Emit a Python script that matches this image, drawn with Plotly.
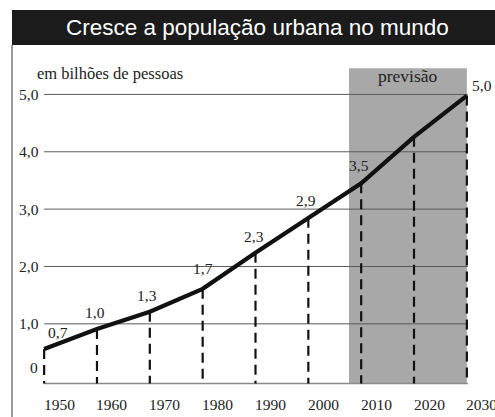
import plotly.graph_objects as go

# ---- data ----
years = [1950, 1960, 1970, 1980, 1990, 2000, 2010, 2020, 2030]
pop_line = [0.56, 0.91, 1.21, 1.61, 2.24, 2.85, 3.45, 4.26, 4.98]   # drawn curve (bilhões)
label_years = [1950, 1960, 1970, 1980, 1990, 2000, 2010, 2030]
label_texts = ["0,7", "1,0", "1,3", "1,7", "2,3", "2,9", "3,5", "5,0"]
y_tick_vals = [1, 2, 3, 4, 5]
y_tick_text = ["1,0", "2,0", "3,0", "4,0", "5,0"]
x_tick_text = ["1950", "1960", "1970", "1980", "1990", "2000", "2010", "2020", "2030"]
forecast_start = 2007.7
forecast_end = 2030
title = "Cresce a população urbana no mundo"
unit_text = "em bilhões de pessoas"
forecast_text = "previsão"

# ---- layout constants ----
W, H = 495, 417
ML, MR, MT, MB = 23, 7, 60, 10
XR = [1946, 2034]
YR = [-0.45, 5.6]
BASE = -0.04
SERIF = "Liberation Serif, Times New Roman, serif"
SANS = "Liberation Sans, Arial, sans-serif"
PW, PH = W - ML - MR, H - MT - MB


def px_to_paper_x(px):
    return (px - ML) / PW


def px_to_paper_y(py):
    return (H - MB - py) / PH


fig = go.Figure()

# gridlines
gx, gy = [], []
for v in y_tick_vals:
    gx += [years[0], years[-1] + 0.2, None]
    gy += [v, v, None]
fig.add_trace(go.Scatter(x=gx, y=gy, mode="lines",
                         line=dict(color="#5a5a5a", width=1), hoverinfo="skip"))
# bottom axis line
fig.add_trace(go.Scatter(x=[years[0], years[-1] + 0.2], y=[BASE, BASE], mode="lines",
                         line=dict(color="#8a8a8a", width=1.5), hoverinfo="skip"))

# dashed droplines
dx, dy = [], []
for x, v in zip(years, pop_line):
    dx += [x, x, None]
    dy += [v, BASE, None]
fig.add_trace(go.Scatter(x=dx, y=dy, mode="lines",
                         line=dict(color="#111111", width=2.2, dash="10px,6px"),
                         hoverinfo="skip"))

# main curve
fig.add_trace(go.Scatter(x=years, y=pop_line, mode="lines",
                         line=dict(color="#111111", width=4.2), hoverinfo="skip"))

shapes = [
    # forecast band
    dict(type="rect", xref="x", yref="y", x0=forecast_start, x1=forecast_end,
         y0=BASE, y1=5.455, fillcolor="#a8a8a8", line=dict(width=0), layer="below"),
    # title bar
    dict(type="rect", xref="paper", yref="paper",
         x0=px_to_paper_x(12), x1=px_to_paper_x(W + 5),
         y0=px_to_paper_y(45), y1=px_to_paper_y(10),
         fillcolor="#1b1b1b", line=dict(width=0), layer="above"),
    # left frame line
    dict(type="line", xref="paper", yref="paper",
         x0=px_to_paper_x(12), x1=px_to_paper_x(12),
         y0=px_to_paper_y(H + 2), y1=px_to_paper_y(45),
         line=dict(color="#7a7a7a", width=1.5)),
]

annotations = []
annotations.append(dict(text=title, xref="paper", yref="paper",
                        x=px_to_paper_x(257.5), y=px_to_paper_y(27.5),
                        xanchor="center", yanchor="middle", showarrow=False,
                        font=dict(family=SANS, size=22.5, color="white")))
annotations.append(dict(text=unit_text, xref="paper", yref="y",
                        x=px_to_paper_x(35), y=5.356, xanchor="left", yanchor="middle",
                        showarrow=False, font=dict(family=SERIF, size=16.5, color="#222")))
annotations.append(dict(text=forecast_text, xref="x", yref="y",
                        x=(forecast_start + forecast_end) / 2, y=5.32,
                        xanchor="center", yanchor="middle", showarrow=False,
                        font=dict(family=SERIF, size=17.5, color="#222")))

# y tick labels
for v, t in zip(y_tick_vals, y_tick_text):
    annotations.append(dict(text=t, x=years[0], y=v, xanchor="right", yanchor="middle",
                            xshift=-3, showarrow=False,
                            font=dict(family=SERIF, size=15.5, color="#222")))
annotations.append(dict(text="0", x=years[0], y=0, xanchor="right", yanchor="middle",
                        xshift=-4, yshift=14, showarrow=False,
                        font=dict(family=SERIF, size=15.5, color="#222")))

# x tick labels
for x, t in zip(years, x_tick_text):
    annotations.append(dict(text=t, x=x, y=-0.415, xanchor="center", yanchor="middle",
                            xshift=15, showarrow=False,
                            font=dict(family=SERIF, size=15.5, color="#222")))

# value labels
label_shifts = {1950: (14, 17), 1960: (-2, 17), 1970: (-2.5, 16), 1980: (0, 20),
                1990: (-1.5, 16), 2000: (-2.3, 17), 2010: (-2, 18), 2030: (15, 10)}
val_at = dict(zip(years, pop_line))
for yr, t in zip(label_years, label_texts):
    xs, ys = label_shifts[yr]
    annotations.append(dict(text=t, x=yr, y=val_at[yr], xanchor="center", yanchor="middle",
                            xshift=xs, yshift=ys, showarrow=False,
                            font=dict(family=SERIF, size=15.5, color="#222")))

fig.update_layout(
    width=W, height=H,
    margin=dict(l=ML, r=MR, t=MT, b=MB, pad=0),
    paper_bgcolor="white", plot_bgcolor="white",
    showlegend=False,
    xaxis=dict(range=XR, visible=False, fixedrange=True),
    yaxis=dict(range=YR, visible=False, fixedrange=True),
    shapes=shapes, annotations=annotations,
)

fig.write_html(
    "out.html",
    config={"displayModeBar": False},
    post_script="document.body.style.margin='0px';document.body.style.overflow='hidden';",
)
